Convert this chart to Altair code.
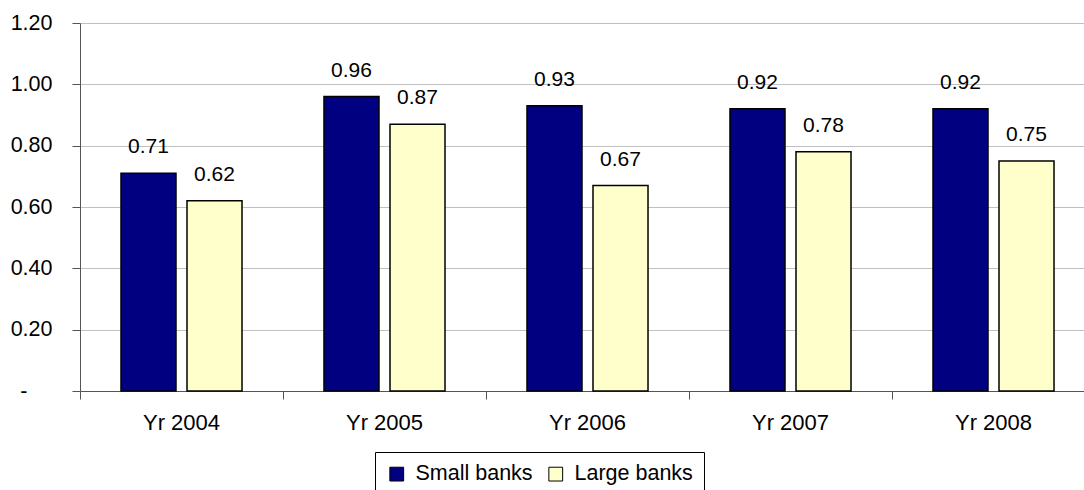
import altair as alt
import pandas as pd

years = ["Yr 2004", "Yr 2005", "Yr 2006", "Yr 2007", "Yr 2008"]
small_banks = [0.71, 0.96, 0.93, 0.92, 0.92]
large_banks = [0.62, 0.87, 0.67, 0.78, 0.75]
series = ["Small banks", "Large banks"]
colors = ["#000080", "#FFFFCC"]
y_ticks = [0, 0.2, 0.4, 0.6, 0.8, 1.0, 1.2]

rows = []
for i, yr in enumerate(years):
    rows.append({"year": yr, "group": series[0], "value": small_banks[i]})
    rows.append({"year": yr, "group": series[1], "value": large_banks[i]})
df = pd.DataFrame(rows)

FONT = "Liberation Sans"

x_enc = alt.X(
    "year:N",
    sort=years,
    scale=alt.Scale(range=[0, 1015], paddingInner=0, paddingOuter=0),
    axis=alt.Axis(
        title=None,
        labelAngle=0,
        labelFontSize=22,
        labelFont=FONT,
        labelColor="#000000",
        labelPadding=13,
        bandPosition=0,
        tickSize=8,
        tickColor="#555555",
        domainColor="#555555",
        grid=False,
    ),
)
xoff_enc = alt.XOffset(
    "group:N",
    sort=series,
    scale=alt.Scale(paddingInner=0.1667, paddingOuter=0.621),
)
y_enc = alt.Y(
    "value:Q",
    scale=alt.Scale(domain=[0, 1.2], nice=False),
    axis=alt.Axis(
        title=None,
        values=y_ticks,
        labelExpr="datum.value == 0 ? '-' : format(datum.value, '.2f')",
        labelFontSize=21.5,
        labelFont=FONT,
        labelColor="#000000",
        labelPadding=alt.condition("datum.value == 0", alt.value(45), alt.value(20)),
        tickSize=8,
        tickColor="#555555",
        domainColor="#555555",
        gridColor="#c0c0c0",
        gridWidth=1,
    ),
)

bars = alt.Chart(df).mark_bar(stroke="#000000", strokeWidth=1.5).encode(
    x=x_enc,
    xOffset=xoff_enc,
    y=y_enc,
    color=alt.Color(
        "group:N",
        sort=series,
        scale=alt.Scale(domain=series, range=colors),
        legend=alt.Legend(
            title=None,
            orient="none",
            direction="horizontal",
            legendX=295,
            legendY=429,
            strokeColor="#000000",
            padding=11,
            symbolType="square",
            symbolSize=190,
            symbolStrokeColor="#000000",
            symbolStrokeWidth=1,
            labelFontSize=21.5,
            labelFont=FONT,
            labelColor="#000000",
            labelOffset=8,
            columnPadding=12,
        ),
    ),
)

labels = alt.Chart(df).mark_text(
    baseline="bottom", dy=-16, fontSize=21, font=FONT, color="#000000"
).encode(
    x=alt.X("year:N", sort=years),
    xOffset=alt.XOffset("group:N", sort=series),
    y=alt.Y("value:Q"),
    text=alt.Text("value:Q", format=".2f"),
)

chart = (
    alt.layer(bars, labels)
    .properties(
        width=1004,
        height=368,
        autosize=alt.AutoSizeParams(type="none"),
        padding={"left": 80, "top": 23, "right": 0, "bottom": 99},
        background="#ffffff",
    )
    .configure_view(stroke=None)
)

chart.save("out.html", embed_options={"renderer": "svg", "actions": False})
